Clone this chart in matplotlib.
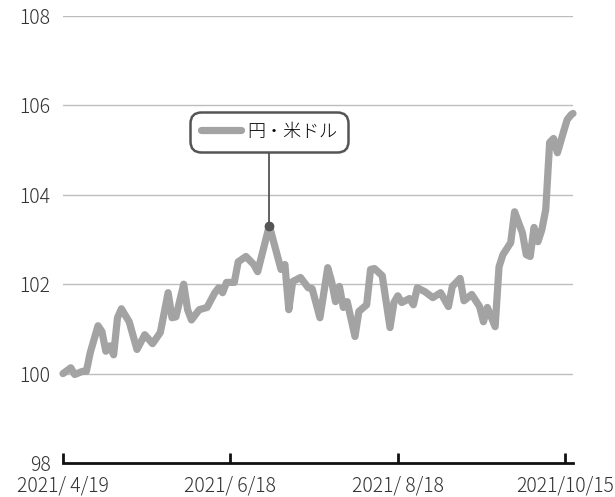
import numpy as np
import matplotlib
matplotlib.use("Agg")
import matplotlib.pyplot as plt

plt.rcParams['font.family'] = ['Noto Sans CJK JP', 'DejaVu Sans']
plt.rcParams['font.weight'] = 'light'

# 円・米ドル (営業日インデックス, 値)
day_idx = [0, 2, 3, 5, 6, 7, 9, 10, 11, 12, 13, 14, 15, 17, 19, 21, 23, 25, 27, 28,
           29, 31, 32, 33, 35, 37, 39, 40, 41, 42, 44, 45, 47, 49, 50, 53, 56, 57, 58, 59,
           61, 63, 64, 66, 68, 69, 70, 71, 72, 73, 75, 76, 78, 79, 80, 82, 84, 85, 86, 87,
           89, 90, 91, 93, 95, 97, 99, 100, 102, 103, 105, 107, 108, 109, 111, 112, 113, 115, 116, 118,
           119, 120, 121, 122, 123, 124, 125, 126, 127, 128.5, 129.5, 130.5, 131]
usdjpy = [100.0, 100.13, 99.98, 100.05, 100.05, 100.47, 101.07, 100.94, 100.5, 100.62,
          100.42, 101.25, 101.45, 101.16, 100.54, 100.87, 100.67, 100.92, 101.81, 101.25,
          101.27, 102.0, 101.43, 101.2, 101.43, 101.48, 101.81, 101.92, 101.81, 102.04,
          102.04, 102.5, 102.62, 102.44, 102.28, 103.31, 102.33, 102.44, 101.43, 102.06,
          102.15, 101.92, 101.9, 101.25, 102.37, 102.06, 101.61, 101.95, 101.48, 101.61,
          100.83, 101.39, 101.54, 102.33, 102.35, 102.19, 101.03, 101.59, 101.74, 101.59,
          101.68, 101.54, 101.92, 101.83, 101.7, 101.81, 101.5, 101.95, 102.13, 101.63,
          101.77, 101.5, 101.16, 101.48, 101.05, 102.39, 102.66, 102.93, 103.62, 103.15,
          102.66, 102.62, 103.27, 102.95, 103.22, 103.67, 105.17, 105.26, 104.94, 105.39,
          105.68, 105.79, 105.82]

tick_idx = [0, 43, 86, 129]
tick_labels = ['2021/ 4/19', '2021/ 6/18', '2021/ 8/18', '2021/10/15']
y_ticks = [98, 100, 102, 104, 106, 108]
series_name = '円・米ドル'

line_color = '#a2a3a2'
dark = '#555555'

fig = plt.figure(figsize=(6.15, 4.97), dpi=100)
ax = fig.add_axes([63/615, 1-463/497, 510/615, 447/497])

ax.set_ylim(98, 108)
ax.set_xlim(0, 131)
for y in y_ticks[1:]:
    ax.axhline(y, color='#bdbdbd', lw=1.0, zorder=1)

ln, = ax.plot(day_idx, usdjpy, color=line_color, lw=5.2, solid_joinstyle='round',
              solid_capstyle='round', zorder=3, label=series_name, clip_on=False)

# 注記: ピークの点から凡例ボックスへ
pk = int(np.argmax(usdjpy[:60]))
px, py = day_idx[pk], usdjpy[pk]
ax.plot([px, px], [py, 105.0], color=dark, lw=1.3, zorder=4)
ax.plot([px], [py], 'o', color=dark, ms=6, zorder=5)

leg = ax.legend(handles=[ln], loc='center', bbox_to_anchor=(px, 105.41),
                bbox_transform=ax.transData, fontsize=13, frameon=True,
                handlelength=2.2, handletextpad=0.35, borderpad=0.4,
                fancybox=True)
leg.get_frame().set_edgecolor(dark)
leg.get_frame().set_linewidth(1.8)
leg.get_frame().set_facecolor('white')
leg.get_frame().set_alpha(1)
leg.get_frame().set_boxstyle('round', pad=0.2, rounding_size=0.6)
leg.set_zorder(6)

for s in ['left', 'right', 'top']:
    ax.spines[s].set_visible(False)
ax.spines['bottom'].set_linewidth(2)
ax.spines['bottom'].set_color('#111111')

ax.set_yticks(y_ticks)
ax.tick_params(axis='y', length=0, pad=9, labelsize=14, labelcolor='#333333')
ax.set_xticks(tick_idx)
ax.set_xticklabels(tick_labels)
ax.tick_params(axis='x', direction='in', length=7, width=2, color='#111111',
               pad=9, labelsize=14, labelcolor='#333333')

fig.savefig('out.png', dpi=100)
